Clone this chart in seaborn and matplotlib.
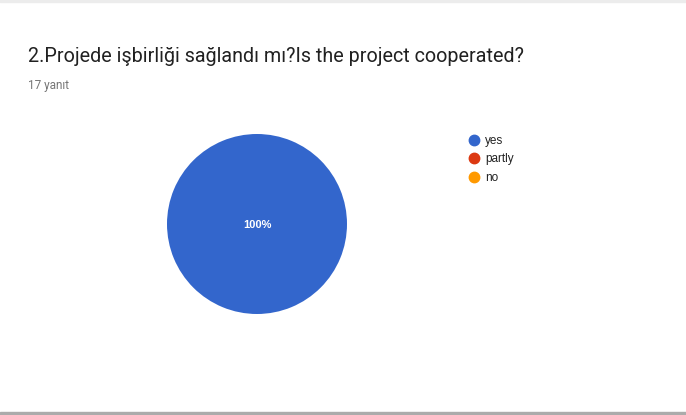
import matplotlib
matplotlib.use('Agg')
import matplotlib.pyplot as plt
from matplotlib.lines import Line2D
import seaborn as sns

answers = ['yes', 'partly', 'no']
counts = [17, 0, 0]
colors = ['#3366cc', '#dc3912', '#ff9900']
title = '2.Projede işbirliği sağlandı mı?Is the project cooperated?'
subtitle = '17 yanıt'

sns.set_style('white')
plt.rcParams['font.family'] = ['Roboto', 'DejaVu Sans']

fig = plt.figure(figsize=(6.86, 4.15), dpi=100)
fig.patch.set_facecolor('white')

# thin grey bands at top and bottom like the screenshot
fig.patches.append(plt.Rectangle((0, 1 - 2 / 415), 1, 2 / 415, transform=fig.transFigure,
                                 color='#ececec', zorder=0))
fig.patches.append(plt.Rectangle((0, 0), 1, 3 / 415, transform=fig.transFigure,
                                 color='#ababab', zorder=0))

fig.text(28 / 686, 1 - 57 / 415, title, fontsize=14.25, color='#212121', va='center', ha='left')
fig.text(28 / 686, 1 - 85 / 415, subtitle, fontsize=8.5, color='#757575', va='center', ha='left')

ax = fig.add_axes([167 / 686, 1 - 314 / 415, 180 / 686, 180 / 415])
total = sum(counts)
vals = [c for c in counts if c > 0]
cols = [colors[i] for i, c in enumerate(counts) if c > 0]
ax.pie(vals, colors=cols, startangle=90, counterclock=False, radius=1,
       wedgeprops=dict(edgecolor='white', linewidth=0))
pct = f'{round(100 * vals[0] / total)}%'
ax.text(0, -0.01, pct, ha='center', va='center', color='white', fontsize=8,
        fontweight='bold', family=['Arial', 'Liberation Sans', 'DejaVu Sans'])
ax.set_aspect('equal')
ax.set_xlim(-1, 1)
ax.set_ylim(-1, 1)
ax.axis('off')

handles = [Line2D([], [], marker='o', linestyle='', markersize=7.5, markerfacecolor=c,
                  markeredgecolor=c) for c in colors]
leg = fig.legend(handles, answers, loc='upper left', bbox_to_anchor=(468 / 686, 1 - 135 / 415),
                 frameon=False, handletextpad=0.45, labelspacing=0.55,
                 prop={'family': ['Arial', 'Liberation Sans', 'DejaVu Sans'], 'size': 8.5},
                 borderaxespad=0, borderpad=0, handlelength=1.0)
for t in leg.get_texts():
    t.set_color('#222222')

fig.savefig('out.png', dpi=100, facecolor='white')
